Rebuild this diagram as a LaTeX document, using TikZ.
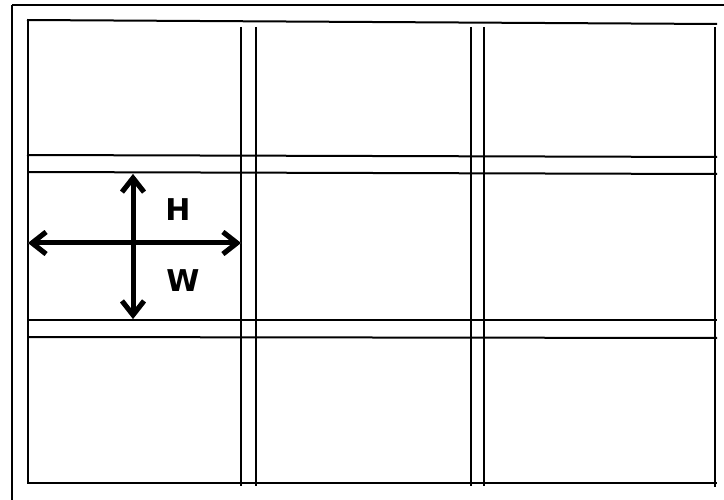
\documentclass[tikz,border=0pt]{standalone}
\usepackage{fontspec}
\setmainfont{DejaVu Sans}
\usetikzlibrary{arrows.meta}
\begin{document}
\begin{tikzpicture}[x=1pt,y=-1pt,
  gridline/.style={line width=2pt,black},
  frameline/.style={line width=2.6pt,black},
  barbtip/.tip={Straight Barb[length=14pt,width=22pt,line width=5pt,line cap=butt,line join=miter]},
  dimarrow/.style={line width=5pt,barbtip-barbtip},
  dimshadow/.style={dimarrow,black!40},
  letter/.style={font=\bfseries\fontsize{30}{30}\selectfont,inner sep=0pt}]
\useasboundingbox (0,0) rectangle (724,500);
\fill[white] (0,0) rectangle (724,500);

% outer frame (top and left edges)
\draw[frameline] (12,5) -- (724,5);
\draw[frameline] (12,5) -- (12,500);

% horizontal grid lines, in pairs
\draw[gridline] (27,20) -- (717,24);
\draw[gridline] (27,155) -- (717,157);
\draw[gridline] (28,172) -- (717,174);
\draw[gridline] (27,320) -- (717,320);
\draw[gridline] (28,337) -- (717,338);
\draw[gridline] (27,483) -- (717,483);

% vertical grid lines
\draw[gridline] (28,20) -- (28,484);
\draw[gridline] (241,27) -- (241,486);
\draw[gridline] (256,27) -- (256,486);
\draw[gridline] (471,27) -- (471,486);
\draw[gridline] (484,27) -- (484,486);
\draw[gridline] (715,27) -- (715,487);

% dimension cross
\coordinate (htop) at (133,174);
\coordinate (hbot) at (133,319);
\coordinate (wleft) at (28,243);
\coordinate (wright) at (241,243);

\begin{scope}[shift={(1.5,1.8)}]
  \draw[dimshadow] (wleft) -- (wright);
  \draw[dimshadow] (htop) -- (hbot);
\end{scope}
\draw[dimarrow] (wleft) -- (wright);
\draw[dimarrow] (htop) -- (hbot);

\node[letter] (H) at (178,210) {H};
\node[letter] (W) at (183,281) {W};
\end{tikzpicture}
\end{document}
